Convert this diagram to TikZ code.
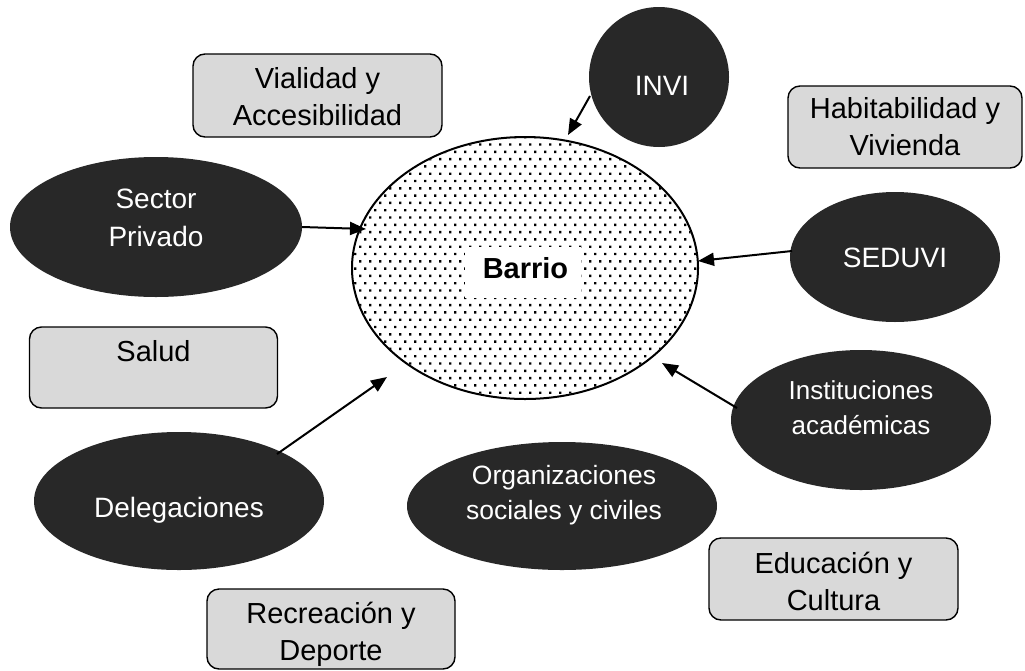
\documentclass[tikz,border=0pt]{standalone}
\usepackage{fontspec}
\setmainfont{Liberation Sans}
\usetikzlibrary{shapes.geometric,arrows.meta}
\definecolor{darkfill}{HTML}{282828}
\definecolor{boxfill}{HTML}{D9D9D9}
\tikzset{
  darkell/.style={ellipse, fill=darkfill, draw=none, inner sep=0pt},
  gbox/.style={draw=black, line width=1.4pt, fill=boxfill, rounded corners=12pt, inner sep=0pt},
  btext/.style={align=center, inner sep=0pt, font=\fontsize{29}{37}\selectfont},
  wtext/.style={text=white, align=center, inner sep=0pt},
  fbig/.style={font=\fontsize{28}{38}\selectfont},
  fsmall/.style={font=\fontsize{26}{35}\selectfont},
  arr/.style={line width=2pt, -{Triangle[length=16pt,width=13pt]}},
}
\begin{document}
\begin{tikzpicture}[x=1pt,y=-1pt]
\useasboundingbox[fill=white] (0,0) rectangle (1025,670);

% central ellipse with dotted fill
\begin{scope}
  \clip (525,268) ellipse [x radius=172pt, y radius=130pt];
  \fill[black] \foreach \j in {0,...,36} { \foreach \i in {0,...,36} {
      ({344+\i*10+mod(\j,2)*5}, {136+\j*7.3}) rectangle ++(2.4,2.4) } };
\end{scope}
\node[ellipse, draw=black, line width=2pt, minimum width=346pt, minimum height=262pt, inner sep=0pt] (barrio) at (525,268) {};
\node[fill=white, minimum width=116pt, minimum height=51pt, inner sep=0pt] (barriobg) at (522.5,272.5) {};
\node[inner sep=0pt, font=\bfseries\fontsize{29}{35}\selectfont] (barriot) at (525.5,268.5) {Barrio};

% grey boxes
\node[gbox, minimum width=249pt, minimum height=83pt] (vial) at (317.5,95.5) {};
\node[btext] (vialt) at (317.5,96.5) {Vialidad y\\Accesibilidad};
\node[gbox, minimum width=234pt, minimum height=82pt] (habit) at (905,127) {};
\node[btext] (habitt) at (905,127) {Habitabilidad y\\Vivienda};
\node[gbox, minimum width=248pt, minimum height=81pt] (salud) at (153.5,367.5) {};
\node[btext] (saludt) at (153.5,351) {Salud};
\node[gbox, minimum width=249pt, minimum height=82pt] (educ) at (833.5,579) {};
\node[btext] (educt) at (833.5,581) {Educación y\\Cultura};
\node[gbox, minimum width=248pt, minimum height=80pt] (recre) at (331,629) {};
\node[btext] (recret) at (331,634) {Recreación y\\Deporte};

% dark ellipses
\node[darkell, minimum width=140pt, minimum height=140pt] (invi) at (659,77) {};
\node[wtext, fbig] (invit) at (662,86) {INVI};
\node[darkell, minimum width=292pt, minimum height=140pt] (sector) at (156,227) {};
\node[wtext, fbig] (sectort) at (156,217.5) {Sector\\Privado};
\node[darkell, minimum width=210pt, minimum height=130pt] (seduvi) at (895,257) {};
\node[wtext, fbig] (seduvit) at (895,258) {SEDUVI};
\node[darkell, minimum width=260pt, minimum height=140pt] (inst) at (861,420) {};
\node[wtext, fsmall] (instt) at (861,408) {Instituciones\\académicas};
\node[darkell, minimum width=290pt, minimum height=138pt] (deleg) at (179,501) {};
\node[wtext, fbig] (delegt) at (179,510) {Delegaciones};
\node[darkell, minimum width=310pt, minimum height=128pt] (org) at (562,506) {};
\node[wtext, font=\fontsize{26.5}{35}\selectfont] (orgt) at (564,495) {Organizaciones\\sociales y civiles};

% arrow end points
\coordinate (a1s) at (590,96);   \coordinate (a1e) at (568,135);
\coordinate (a2s) at (302,227);  \coordinate (a2e) at (366,229);
\coordinate (a3s) at (792,251);  \coordinate (a3e) at (698,261);
\coordinate (a4s) at (737,408);  \coordinate (a4e) at (662,363);
\coordinate (a5s) at (277,454);  \coordinate (a5e) at (387,377);
\draw[arr] (a1s) -- (a1e);
\draw[arr] (a2s) -- (a2e);
\draw[arr] (a3s) -- (a3e);
\draw[arr] (a4s) -- (a4e);
\draw[arr] (a5s) -- (a5e);
\end{tikzpicture}
\end{document}
